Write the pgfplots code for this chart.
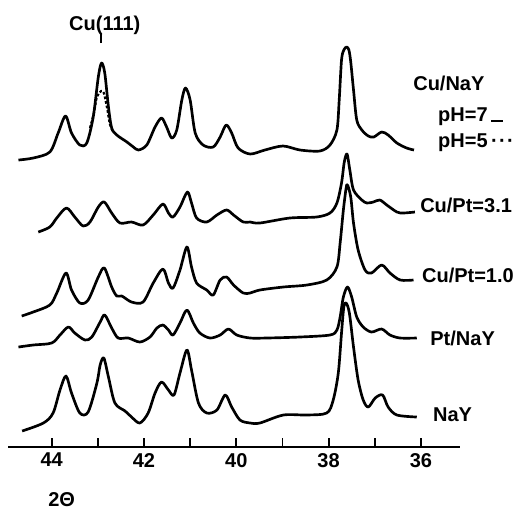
\documentclass[border=0pt]{standalone}
\usepackage{fontspec}
\setmainfont{Liberation Sans}
\usepackage{pgfplots}
\pgfplotsset{compat=1.18}
\begin{document}
\begin{tikzpicture}
\begin{axis}[
  x=34.6125pt, y=0.75pt,
  x dir=reverse,
  xmin=35.153, xmax=44.947,
  ymin=65, ymax=505,
  axis x line=bottom, axis y line=none,
  axis line style={-, line width=1.6pt},
  xtick={36,38,40,42,44},
  minor xtick={37,39,41,43},
  xtick align=inside,
  major tick length=7pt, minor tick length=7pt,
  every tick/.style={black, line width=1.4pt},
  /pgf/number format/assume math mode=true,
  xticklabel style={font=\bfseries\fontsize{15}{18}\selectfont, yshift=-1pt},
  clip=false,
  curve/.style={black, no markers, line width=2pt, smooth, line join=round},
]
% Cu/NaY, pH=7
\addplot[curve] coordinates {
(44.72,352) (44.40,354) (44.04,360) (43.86,379) (43.70,396) (43.57,379)
(43.39,367) (43.24,369) (43.10,395) (42.99,435) (42.92,449) (42.85,439)
(42.77,405) (42.70,384) (42.59,377) (42.37,370) (42.23,365) (42.12,362)
(41.94,367) (41.76,385) (41.62,394) (41.51,385) (41.40,374) (41.29,382)
(41.18,412) (41.10,424) (41.00,412) (40.89,379) (40.72,367) (40.50,365)
(40.35,375) (40.22,387) (40.10,379) (39.96,364) (39.70,358) (39.38,362)
(38.99,366) (38.62,362) (38.19,361) (37.97,367) (37.82,382) (37.77,412)
(37.72,452) (37.67,462) (37.61,465) (37.56,462) (37.52,450) (37.46,422)
(37.39,392) (37.28,382) (37.14,376) (37.02,375) (36.85,380) (36.71,377)
(36.52,369) (36.31,364) (36.15,362)
};
% Cu/NaY, pH=5 (only differs at Cu(111))
\addplot[curve, dash pattern=on 2pt off 1.5pt, line width=1.6pt] coordinates {
(43.17,384) (43.08,400) (43.02,415) (42.93,421) (42.87,419) (42.80,404)
(42.74,388) (42.67,380)
};
% Cu/Pt=3.1
\addplot[curve] coordinates {
(44.29,280) (44.04,285) (43.89,294) (43.68,304) (43.50,295) (43.32,286)
(43.17,290) (42.99,305) (42.86,310) (42.70,299) (42.52,289) (42.27,290)
(42.02,287) (41.80,297) (41.59,308) (41.47,299) (41.37,295) (41.22,305)
(41.06,320) (40.97,309) (40.86,294) (40.64,290) (40.42,297) (40.21,302)
(40.06,297) (39.85,290) (39.70,290) (39.49,289) (38.84,294) (38.26,295)
(37.97,299) (37.82,309) (37.72,329) (37.66,350) (37.60,358) (37.54,342)
(37.46,322) (37.28,312) (37.17,309) (37.03,310) (36.89,312) (36.74,307)
(36.52,300) (36.38,299) (36.13,300)
};
% Cu/Pt=1.0
\addplot[curve] coordinates {
(44.65,196) (44.40,200) (44.04,207) (43.89,219) (43.69,239) (43.57,222)
(43.39,209) (43.21,212) (42.99,235) (42.86,244) (42.70,225) (42.59,216)
(42.48,216) (42.27,210) (42.02,210) (41.80,229) (41.59,243) (41.47,229)
(41.37,224) (41.22,242) (41.07,265) (40.97,245) (40.86,229) (40.64,222)
(40.50,217) (40.35,232) (40.21,235) (40.06,227) (39.85,219) (39.70,219)
(39.49,222) (38.98,225) (38.47,227) (38.04,232) (37.82,245) (37.75,269)
(37.68,302) (37.62,324) (37.59,327) (37.52,315) (37.46,289) (37.36,262)
(37.21,242) (37.07,239) (36.85,247) (36.67,239) (36.45,232) (36.16,232)
};
% Pt/NaY
\addplot[curve] coordinates {
(44.72,165) (44.40,167) (44.00,169) (43.82,177) (43.64,185) (43.50,179)
(43.28,172) (43.13,175) (42.95,190) (42.85,197) (42.70,184) (42.56,174)
(42.34,174) (42.09,170) (41.87,175) (41.72,184) (41.59,187) (41.47,182)
(41.37,177) (41.22,189) (41.07,202) (40.93,189) (40.79,179) (40.57,174)
(40.35,177) (40.17,183) (39.99,177) (39.70,174) (39.34,174) (38.62,175)
(37.97,177) (37.82,182) (37.75,195) (37.68,215) (37.59,225) (37.50,215)
(37.39,195) (37.25,185) (37.07,180) (36.85,183) (36.67,177) (36.45,174)
(36.09,174)
};
% NaY
\addplot[curve] coordinates {
(44.64,81) (44.18,89) (43.97,99) (43.82,122) (43.69,136) (43.57,119)
(43.39,99) (43.21,100) (43.02,129) (42.95,147) (42.87,154) (42.77,135)
(42.63,109) (42.41,101) (42.27,95) (42.09,89) (41.91,99) (41.76,119)
(41.62,130) (41.47,122) (41.35,117) (41.22,139) (41.07,162) (40.97,142)
(40.82,109) (40.64,99) (40.42,102) (40.24,117) (40.10,105) (39.92,92)
(39.70,89) (39.49,89) (38.98,97) (38.47,97) (38.04,99) (37.90,112)
(37.79,139) (37.72,179) (37.67,205) (37.62,209) (37.55,199) (37.46,165)
(37.36,132) (37.25,112) (37.14,105) (36.99,114) (36.83,117) (36.71,105)
(36.52,97) (36.09,95)
};
% labels
\begin{scope}[every node/.style={font=\bfseries\fontsize{15}{18}\selectfont, inner sep=0pt}]
\node at (axis cs:42.85,487) {Cu(111)};
\draw[line width=1.2pt] (axis cs:42.93,469) -- (axis cs:42.93,479);
\node[anchor=west] at (axis cs:36.17,429) {Cu/NaY};
\node[anchor=west] at (axis cs:35.63,395) {pH=7\,\rule{9pt}{1.3pt}};
\node[anchor=west] at (axis cs:35.63,369) {pH=5\,·\hspace{1pt}·\hspace{1pt}·};
\node[anchor=west] at (axis cs:36.02,307) {Cu/Pt=3.1};
\node[anchor=west] at (axis cs:35.98,237) {Cu/Pt=1.0};
\node[anchor=west] at (axis cs:35.80,174) {Pt/NaY};
\node[anchor=west] at (axis cs:35.74,97) {NaY};
\node[anchor=west] at (axis cs:44.08,12) {2Θ};
\end{scope}
\path (axis cs:45.120,0) rectangle (axis cs:33.918,512);
\end{axis}
\end{tikzpicture}
\end{document}
